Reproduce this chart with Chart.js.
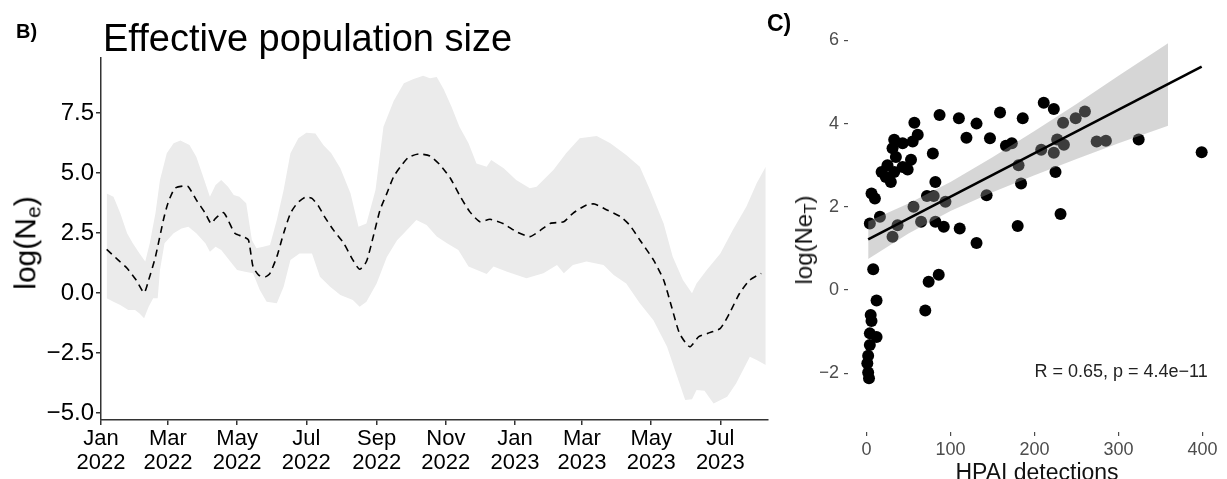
<!DOCTYPE html>
<html>
<head>
<meta charset="utf-8">
<script src="https://cdn.jsdelivr.net/npm/chart.js@4.4.1/dist/chart.umd.min.js"></script>
<style>
  body { margin: 0; background: #fff; width: 1227px; height: 479px; overflow: hidden; position: relative;
         font-family: "Liberation Sans", Arial, sans-serif; color: #000; }
  canvas { position: absolute; top: 0; }
  #neChart { left: 0; }
  #corChart { left: 820px; }
  .lab { position: absolute; line-height: 1; white-space: nowrap; }
  .rot { transform: translate(-50%, -50%) rotate(-90deg); }
  sub { font-size: 70%; vertical-align: -0.25em; }
</style>
</head>
<body>
<canvas id="neChart" width="790" height="479"></canvas>
<canvas id="corChart" width="407" height="479"></canvas>

<div class="lab" style="left:16px;top:21px;font-size:20px;font-weight:bold">B)</div>
<div class="lab" style="left:103px;top:19px;font-size:38px">Effective population size</div>
<div class="lab rot" style="left:27px;top:243px;font-size:30px">log(N<sub>e</sub>)</div>

<div class="lab" style="left:767px;top:12px;font-size:23px;font-weight:bold">C)</div>
<div class="lab rot" style="left:806px;top:240px;font-size:24px;color:#111">log(Ne<sub>T</sub>)</div>
<div class="lab" style="left:1037px;top:461px;font-size:23px;color:#111;transform:translateX(-50%)">HPAI detections</div>

<script>
'use strict'

const FONT = '"Liberation Sans", Arial, sans-serif';

// panel B: days since 1 Jan 2022
const monthTicks = [0, 59, 120, 181, 243, 304, 365, 424, 485, 546];
const monthLabels = ['Jan', 'Mar', 'May', 'Jul', 'Sep', 'Nov', 'Jan', 'Mar', 'May', 'Jul'];
const yearLabels = ['2022', '2022', '2022', '2022', '2022', '2022', '2023', '2023', '2023', '2023'];
const neTicks = [-5, -2.5, 0, 2.5, 5, 7.5];

const neDays = [5, 15, 23, 31, 38, 42, 48, 55, 59, 65, 73, 77, 84, 92, 97, 101, 108, 112, 118, 125,
  130, 134, 139, 145, 149, 155, 161, 167, 173, 180, 186, 192, 197, 205, 214, 222, 228, 234, 240, 246,
  252, 258, 264, 271, 280, 290, 299, 308, 316, 325, 334, 343, 355, 366, 378, 387, 396, 408, 416, 428,
  435, 446, 458, 466, 475, 487, 496, 503, 510, 519, 527, 535, 546, 554, 563, 572, 582];
const neMedian = [1.82, 1.38, 1.03, 0.54, 0.01, 0.54, 1.51, 3.04, 3.74, 4.36, 4.46, 4.43, 3.88, 3.32, 2.90, 3.11, 3.35, 3.04, 2.49, 2.35,
  2.21, 1.10, 0.75, 0.68, 0.82, 1.51, 2.49, 3.32, 3.74, 3.99, 3.94, 3.60, 3.18, 2.62, 2.07, 1.38, 0.99, 1.31, 2.35, 3.46,
  4.15, 4.85, 5.26, 5.65, 5.79, 5.71, 5.33, 4.78, 4.08, 3.39, 2.97, 3.07, 2.88, 2.56, 2.35, 2.60, 2.90, 2.97, 3.32, 3.67,
  3.71, 3.46, 3.18, 2.83, 2.21, 1.38, 0.54, -0.57, -1.68, -2.24, -1.82, -1.68, -1.47, -0.85, -0.01, 0.54, 0.82];

const upperDays = [5, 11, 17, 23, 28, 34, 39, 43, 48, 52, 58, 64, 70, 78, 84, 90, 96, 101, 106, 112,
  117, 122, 128, 133, 137, 143, 149, 155, 161, 167, 174, 181, 189, 196, 203, 211, 220, 227, 234, 242,
  249, 258, 267, 275, 284, 290, 296, 302, 309, 316, 324, 331, 340, 344, 355, 366, 378, 384, 399, 410,
  422, 437, 449, 463, 475, 484, 496, 504, 513, 521, 525, 534, 546, 557, 569, 578, 586];
const neUpper = [4.15, 4.01, 3.32, 2.49, 2.07, 1.65, 1.31, 2.07, 3.32, 4.71, 5.82, 6.24, 6.35, 6.17, 5.68, 4.85, 4.01, 4.50, 4.71, 4.43,
  4.08, 4.01, 3.74, 2.21, 1.86, 1.93, 2.00, 3.04, 4.29, 5.82, 6.45, 6.68, 6.65, 6.17, 5.82, 5.20, 4.15, 2.76, 2.90, 4.29,
  6.93, 8.00, 8.74, 8.90, 9.05, 8.95, 9.00, 8.50, 7.76, 6.93, 6.24, 5.40, 5.26, 5.54, 5.20, 4.71, 4.36, 4.43, 5.13, 5.82,
  6.45, 6.54, 6.24, 5.75, 5.26, 4.29, 2.90, 1.51, 0.54, -0.01, 0.40, 0.96, 1.65, 2.62, 3.60, 4.57, 5.26];

const lowerDays = [5, 11, 17, 24, 30, 34, 38, 42, 46, 50, 52, 56, 64, 71, 77, 84, 92, 96, 101, 106,
  114, 120, 127, 134, 140, 146, 155, 161, 167, 175, 186, 193, 202, 211, 222, 228, 234, 243, 252, 261,
  267, 278, 287, 296, 305, 315, 324, 340, 346, 358, 375, 390, 402, 408, 416, 428, 443, 452, 463, 475,
  487, 499, 507, 515, 521, 525, 532, 540, 552, 560, 572, 578, 586];
const neLower = [-0.22, -0.36, -0.50, -0.71, -0.71, -0.85, -1.05, -0.57, -0.22, -0.22, 0.96, 2.07, 2.49, 2.69, 2.76, 2.49, 2.07, 1.72, 1.93, 1.79,
  1.31, 0.96, 0.89, 0.82, 0.13, -0.36, -0.43, 0.26, 1.38, 1.65, 1.65, 0.68, 0.26, -0.08, -0.29, -0.57, -0.36, 0.40, 1.50, 2.20,
  2.49, 3.04, 2.83, 2.35, 2.07, 1.79, 1.10, 0.79, 1.10, 0.89, 0.61, 0.82, 1.17, 0.82, 1.17, 1.31, 1.17, 0.75, 0.40, -0.43,
  -1.13, -2.24, -3.35, -4.46, -4.43, -4.04, -4.07, -4.60, -4.32, -3.76, -2.65, -2.79, -3.00];

// panel C
const hpaiDetections = [87, 110, 131, 159, 186, 211, 223, 57, 61, 119, 147, 166, 173, 33, 55, 43, 31, 79, 35, 53,
  25, 43, 18, 33, 49, 23, 29, 82, 6, 10, 72, 80, 143, 94, 56, 4, 16, 37, 65, 82,
  92, 111, 31, 131, 234, 249, 260, 227, 235, 208, 223, 274, 285, 181, 324, 399, 225, 184, 231, 180,
  8, 12, 74, 86, 70, 5, 6, 4, 12, 4, 2, 1, 2, 3];
const logNeT = [4.21, 4.13, 4.00, 4.27, 4.13, 4.50, 4.35, 4.02, 3.73, 3.66, 3.65, 3.47, 3.53, 3.61, 3.57, 3.53, 3.41, 3.28, 3.20, 3.13,
  3.00, 2.96, 2.84, 2.84, 2.90, 2.72, 2.60, 2.60, 2.32, 2.20, 2.26, 2.26, 2.28, 2.12, 2.00, 1.60, 1.76, 1.56, 1.64, 1.64,
  1.52, 1.48, 1.28, 1.13, 4.02, 4.13, 4.29, 3.62, 3.49, 3.37, 3.30, 3.57, 3.59, 3.00, 3.62, 3.31, 2.84, 2.56, 1.83, 1.54,
  0.50, -0.25, 0.20, 0.37, -0.49, -0.60, -0.74, -1.04, -1.13, -1.32, -1.58, -1.76, -1.98, -2.12];
const fitX = [2, 399];
const fitY = [1.22, 5.37];
const ciX = [2, 50, 100, 150, 200, 250, 300, 359];
const ciUpper = [1.65, 2.08, 2.60, 3.19, 3.82, 4.47, 5.15, 5.93];
const ciLower = [0.75, 1.36, 1.90, 2.35, 2.76, 3.15, 3.53, 3.95];
const detTicks = [0, 100, 200, 300, 400];
const neTTicks = [-2, 0, 2, 4, 6];
const corLabel = 'R = 0.65, p = 4.4e\u221211';

const xy = (xs, ys) => xs.map((x, i) => ({ x: x, y: ys[i] }));
const minus = v => String(v).replace('-', '\u2212');

// higher "order" is drawn first (further back)
const neChart = new Chart(document.getElementById('neChart'), {
    type: 'line',
    data: {
        datasets: [
            { data: xy(lowerDays, neLower), borderColor: 'rgba(0,0,0,0)', pointRadius: 0, fill: false, order: 2 },
            { data: xy(upperDays, neUpper), borderColor: 'rgba(0,0,0,0)', pointRadius: 0, fill: '-1', backgroundColor: '#ebebeb', order: 2 },
            { data: xy(neDays, neMedian), borderColor: '#000', borderWidth: 1.6, borderDash: [7, 5], pointRadius: 0, fill: false, tension: 0.2, order: 1 }
        ]
    },
    options: {
        responsive: false,
        animation: false,
        layout: { padding: { left: 0, top: 58, right: 22, bottom: 0 } },
        plugins: { legend: { display: false }, tooltip: { enabled: false } },
        scales: {
            x: {
                type: 'linear', min: 0, max: 588,
                afterBuildTicks: s => { s.ticks = monthTicks.map(v => ({ value: v })); },
                afterFit: s => { s.height = 59; },
                grid: { drawOnChartArea: false, tickLength: 5, color: '#333', lineWidth: 1.5 },
                border: { color: '#333', width: 1.5 },
                ticks: {
                    autoSkip: false, maxRotation: 0, padding: 2, color: '#000',
                    font: { size: 22, family: FONT, lineHeight: 1.1 },
                    callback: (v, i) => [monthLabels[i], yearLabels[i]]
                }
            },
            y: {
                min: -5.29, max: 9.79,
                afterBuildTicks: s => { s.ticks = neTicks.map(v => ({ value: v })); },
                afterFit: s => { s.width = 101; },
                grid: { drawOnChartArea: false, tickLength: 5, color: '#333', lineWidth: 1.5 },
                border: { color: '#333', width: 1.5 },
                ticks: {
                    padding: 2, color: '#000', font: { size: 24, family: FONT },
                    callback: v => minus(v.toFixed(1))
                }
            }
        }
    }
});

const corText = {
    id: 'corText',
    afterDraw(chart) {
        const c = chart.ctx;
        c.save();
        c.font = '18px ' + FONT;
        c.fillStyle = '#222';
        c.textAlign = 'left';
        c.textBaseline = 'middle';
        c.fillText(corLabel, chart.scales.x.getPixelForValue(200), chart.scales.y.getPixelForValue(-1.97));
        c.restore();
    }
};

const corChart = new Chart(document.getElementById('corChart'), {
    type: 'line',
    data: {
        datasets: [
            { data: xy(hpaiDetections, logNeT), showLine: false, pointRadius: 6, pointBackgroundColor: '#000', pointBorderColor: '#000', pointBorderWidth: 0, order: 3 },
            { data: xy(ciX, ciLower), borderColor: 'rgba(0,0,0,0)', pointRadius: 0, fill: false, order: 2 },
            { data: xy(ciX, ciUpper), borderColor: 'rgba(0,0,0,0)', pointRadius: 0, fill: '-1', backgroundColor: 'rgba(153,153,153,0.4)', order: 2 },
            { data: xy(fitX, fitY), borderColor: '#000', borderWidth: 2.6, pointRadius: 0, fill: false, order: 1 }
        ]
    },
    options: {
        responsive: false,
        animation: false,
        layout: { padding: { left: 0, top: 20, right: 2, bottom: 0 } },
        plugins: { legend: { display: false }, tooltip: { enabled: false } },
        scales: {
            x: {
                type: 'linear', min: -22, max: 422,
                afterBuildTicks: s => { s.ticks = detTicks.map(v => ({ value: v })); },
                afterFit: s => { s.height = 47; },
                grid: { drawOnChartArea: false, tickLength: 4, color: '#4d4d4d', lineWidth: 1.2 },
                border: { display: false },
                ticks: { autoSkip: false, maxRotation: 0, padding: 3, color: '#4d4d4d', font: { size: 18, family: FONT } }
            },
            y: {
                min: -3.41, max: 6.49,
                afterBuildTicks: s => { s.ticks = neTTicks.map(v => ({ value: v })); },
                afterFit: s => { s.width = 28; },
                grid: { drawOnChartArea: false, tickLength: 4, color: '#4d4d4d', lineWidth: 1.2 },
                border: { display: false },
                ticks: { padding: 5, color: '#4d4d4d', font: { size: 18, family: FONT }, callback: v => minus(v) }
            }
        }
    },
    plugins: [corText]
});
</script>
</body>
</html>
